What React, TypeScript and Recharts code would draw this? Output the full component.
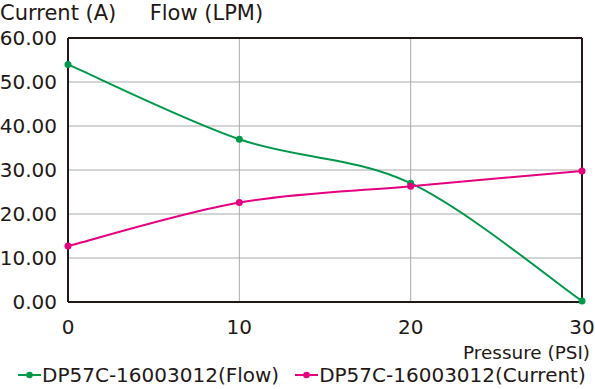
import React from "react";
import { LineChart, Line, XAxis, YAxis, CartesianGrid, Legend, Label, ReferenceLine } from "recharts";

const pressure = [0, 10, 20, 30];
const flow = [54, 37, 27, 0.2];
const current = [12.7, 22.6, 26.3, 29.8];
const yTicks = [0, 10, 20, 30, 40, 50, 60];
const xTicks = [0, 10, 20, 30];
const flowName = "DP57C-16003012(Flow)";
const currentName = "DP57C-16003012(Current)";

const data = pressure.map((p, i) => ({ p, flow: flow[i], current: current[i] }));

const FONT = "'DejaVu Sans', sans-serif";
const GREEN = "#00984a";
const PINK = "#e4007f";
const DARK = "#231815";

// Smooth curve (Catmull-Rom style Bezier, like spreadsheet "smoothed line")
const smoothCurve: any = (context: any) => {
  let pts: number[][] = [];
  return {
    areaStart() {},
    areaEnd() {},
    lineStart() {
      pts = [];
    },
    point(x: number, y: number) {
      pts.push([+x, +y]);
    },
    lineEnd() {
      const n = pts.length;
      if (!n) return;
      context.moveTo(pts[0][0], pts[0][1]);
      for (let i = 0; i < n - 1; i++) {
        const p0 = pts[i - 1] || pts[i];
        const p1 = pts[i];
        const p2 = pts[i + 1];
        const p3 = pts[i + 2] || pts[i + 1];
        const c1x = p1[0] + (p2[0] - p0[0]) / 6;
        const c1y = p1[1] + (p2[1] - p0[1]) / 6;
        const c2x = p2[0] - (p3[0] - p1[0]) / 6;
        const c2y = p2[1] - (p3[1] - p1[1]) / 6;
        context.bezierCurveTo(c1x, c1y, c2x, c2y, p2[0], p2[1]);
      }
    },
  };
};

const LegendContent = () => (
  <div
    style={{
      display: "flex",
      alignItems: "center",
      fontFamily: FONT,
      fontSize: 20,
      color: DARK,
      paddingLeft: 18,
      whiteSpace: "nowrap",
    }}
  >
    {[
      { name: flowName, color: GREEN },
      { name: currentName, color: PINK },
    ].map((it, i) => (
      <div key={i} style={{ display: "flex", alignItems: "center", marginRight: i === 0 ? 16 : 0, flexShrink: 0 }}>
        <svg width={23} height={10} style={{ marginRight: 1 }}>
          <line x1={0} y1={5} x2={23} y2={5} stroke={it.color} strokeWidth={2} />
          <circle cx={11.5} cy={5} r={3.3} fill={it.color} />
        </svg>
        <span>{it.name}</span>
      </div>
    ))}
  </div>
);

export default function App() {
  return (
    <div style={{ position: "absolute", left: 0, top: 0, background: "#fff" }}>
      <LineChart width={595} height={389} data={data} margin={{ top: 38, right: 13, left: 0, bottom: 0 }}>
        <CartesianGrid stroke="#aaaaaa" strokeWidth={1} vertical={true} horizontal={true} />
        <XAxis
          dataKey="p"
          type="number"
          domain={[0, 30]}
          ticks={xTicks}
          tickLine={false}
          axisLine={{ stroke: DARK, strokeWidth: 2 }}
          tick={{ fill: DARK, fontSize: 20, fontFamily: FONT }}
          tickMargin={12}
          height={61}
        >
          <Label
            content={(props: any) => {
              const vb = props.viewBox || {};
              return (
                <text x={590} y={vb.y + 57} textAnchor="end" fill={DARK} fontSize={18.4} fontFamily={FONT}>
                  Pressure (PSI)
                </text>
              );
            }}
          />
        </XAxis>
        <YAxis
          type="number"
          domain={[0, 60]}
          ticks={yTicks}
          tickLine={false}
          axisLine={{ stroke: DARK, strokeWidth: 2 }}
          tick={{ fill: DARK, fontSize: 20, fontFamily: FONT }}
          tickFormatter={(v: number) => v.toFixed(2)}
          tickMargin={5}
          width={68}
        >
          <Label
            content={() => (
              <text x={0} y={20} textAnchor="start" fill={DARK} fontSize={21} fontFamily={FONT} style={{ whiteSpace: "pre" }}>
                {"Current (A)     Flow (LPM)"}
              </text>
            )}
          />
        </YAxis>
        <ReferenceLine y={60} stroke={DARK} strokeWidth={2} />
        <ReferenceLine x={30} stroke={DARK} strokeWidth={2} />
        <Legend
          verticalAlign="bottom"
          align="left"
          height={26}
          wrapperStyle={{ left: 0, width: 595 }}
          content={<LegendContent />}
        />
        <Line
          type={smoothCurve}
          dataKey="flow"
          name={flowName}
          stroke={GREEN}
          strokeWidth={2}
          dot={{ r: 3.5, fill: GREEN, stroke: "none" }}
          isAnimationActive={false}
        />
        <Line
          type={smoothCurve}
          dataKey="current"
          name={currentName}
          stroke={PINK}
          strokeWidth={2}
          dot={{ r: 3.5, fill: PINK, stroke: "none" }}
          isAnimationActive={false}
        />
      </LineChart>
    </div>
  );
}
